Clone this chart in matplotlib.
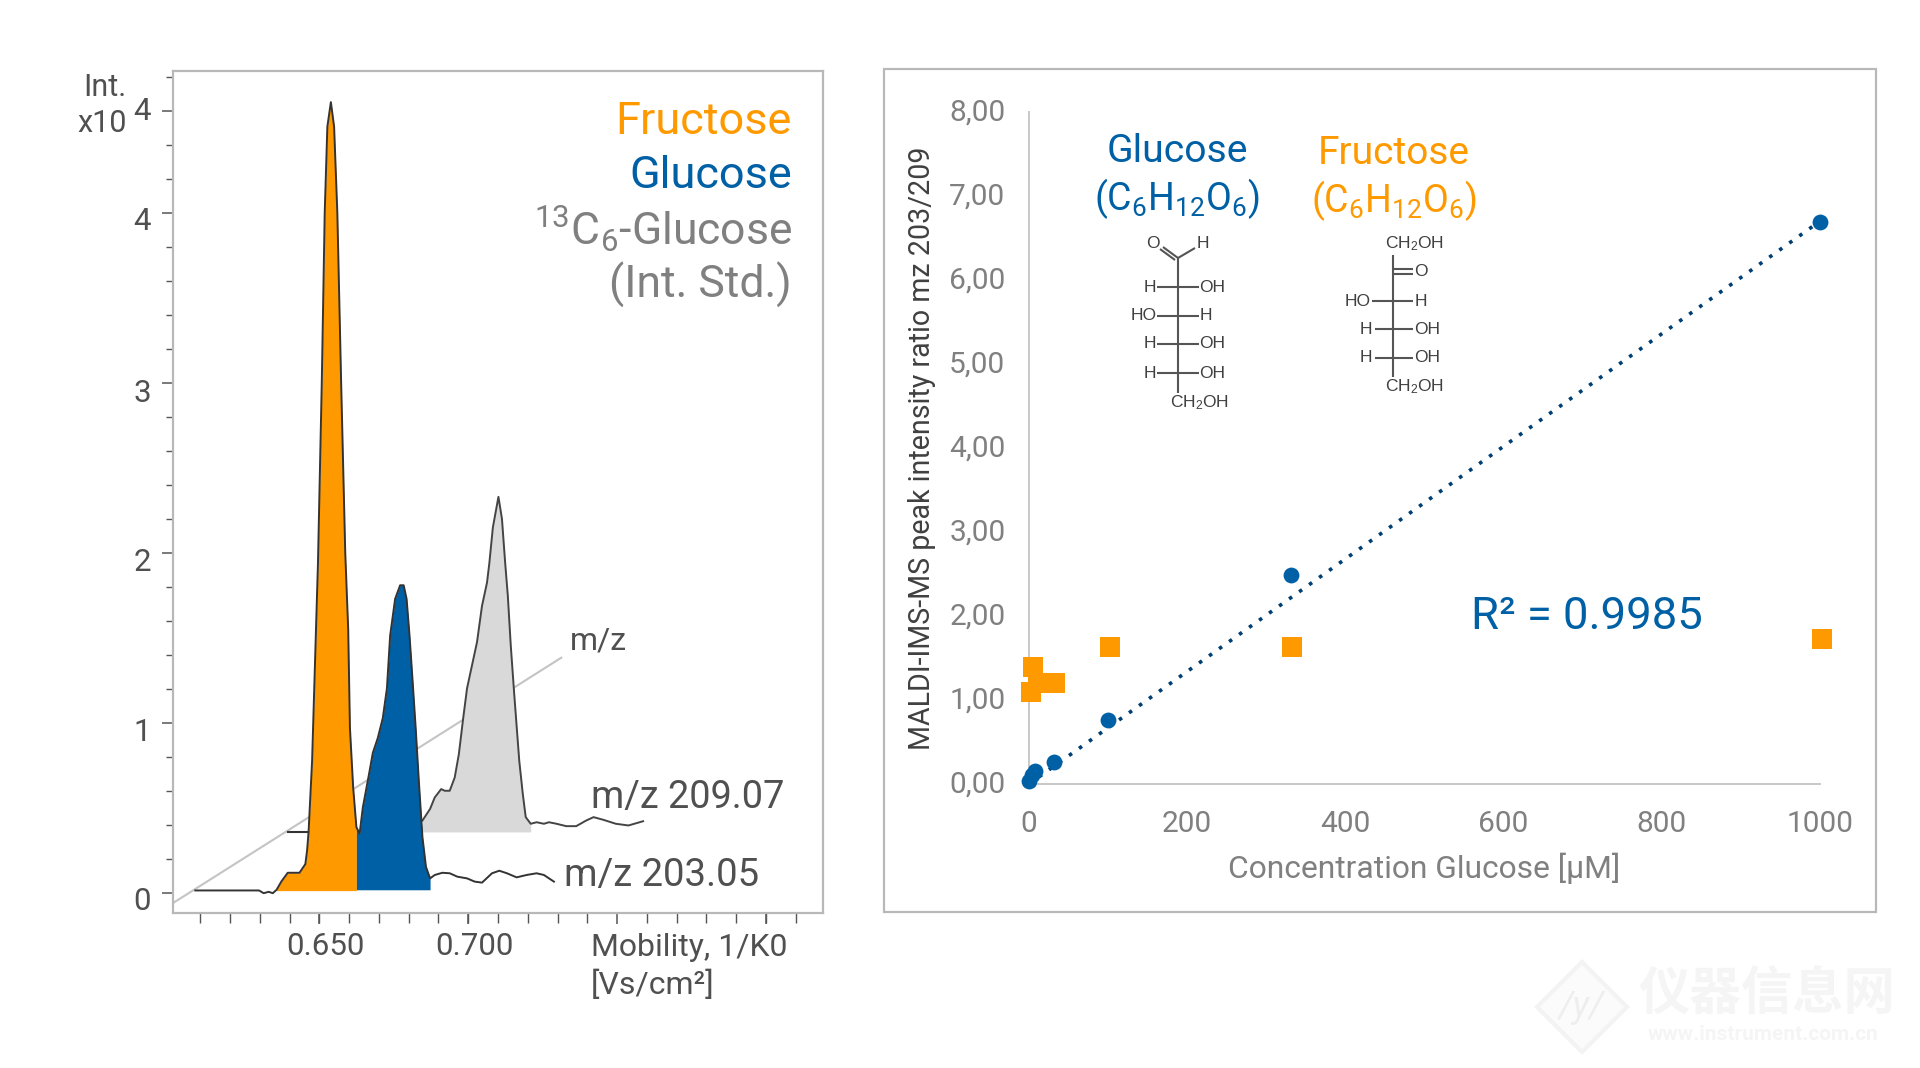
import numpy as np
import matplotlib
matplotlib.use("Agg")
import matplotlib.pyplot as plt
from matplotlib.patches import Rectangle, Polygon
from matplotlib.transforms import ScaledTranslation

plt.rcParams["font.family"] = ["Roboto", "Noto Sans CJK SC", "DejaVu Sans"]

# -----------------------------
# Data, left panel (mobilogram)
# -----------------------------
trace_203_x = [.6079, .6296, .6312, .6329, .6343, .6356, .6372, .6394, .6434, .6454, .6460, .6465, .6477,
               .6487, .6497, .6510, .6520, .6529, .6541, .6552, .6563, .6576, .6590, .6600, .6606,
               .6617, .6628, .6639, .6650, .6671, .6684, .6701, .6718, .6732, .6743, .6760, .6777,
               .6789, .6799, .6809, .6819, .6830, .6840, .6853, .6865, .6879, .6895, .6921, .6946,
               .6972, .7005, .7031, .7056, .7090, .7115, .7141, .7174, .7208, .7242, .7267, .7301]
trace_203_y = [.016, .016, .0, .008, .0, .02, .068, .120, .120, .171, .252, .36, .777,
               1.36, 1.94, 3.0, 4.0, 4.506, 4.65, 4.506, 4.0, 3.0, 2.0, 1.553, .97,
               .62, .388, .35, .505, .70, .825, .913, 1.03, 1.204, 1.515, 1.73, 1.81,
               1.81, 1.73, 1.515, 1.26, .97, .68, .33, .155, .087, .107, .12, .117,
               .097, .087, .068, .062, .117, .132, .117, .093, .107, .117, .107, .068]

trace_209_x = [.6853, .6879, .6895, .6917, .6929, .6946, .6963, .6977, .6992, .7005, .7022, .7039,
               .7056, .7073, .7081, .7093, .7112, .7124, .7135, .7144, .7154, .7166, .7183, .7195,
               .7205, .7222, .7242, .7267, .7284, .7310, .7343, .7377, .7411, .7436, .7470, .7512,
               .7555, .7605]
trace_209_y = [.427, .495, .563, .612, .602, .602, .68, .816, 1.03, 1.204, 1.34, 1.476,
               1.689, 1.825, 1.94, 2.15, 2.33, 2.2, 1.94, 1.748, 1.456, 1.165, .777, .583,
               .447, .408, .417, .408, .417, .408, .394, .394, .427, .447, .431, .408,
               .398, .423]
trace_209_start_x = [.6394, .6465]
trace_209_start_y = [.36, .36]

mz_axis_x = [.6003, .7326]
mz_axis_y = [-.058, 1.384]

left_yticks = [0, 1, 2, 3, 4, 4.6]
left_ylabels = ["0", "1", "2", "3", "4", "4"]
left_xticks = [.6502, .7009, .7516, .8023]
left_xlabels = ["0.650", "0.700", "", ""]

# -----------------------------
# Data, right panel (calibration)
# -----------------------------
glucose_conc = [0.4, 3.5, 7.5, 31, 100, 331, 1000]
glucose_ratio = [.04, .11, .16, .26, .76, 2.49, 6.69]
fructose_conc = [2.5, 5.5, 11, 33, 102, 333, 1003]
fructose_ratio = [1.10, 1.39, 1.20, 1.20, 1.63, 1.63, 1.73]
fit_x = [0, 1000]
fit_y = [0, 6.70]
right_yticks = [0, 1, 2, 3, 4, 5, 6, 7, 8]
right_ylabels = ["0,00", "1,00", "2,00", "3,00", "4,00", "5,00", "6,00", "7,00", "8,00"]
right_xticks = [0, 200, 400, 600, 800, 1000]

ORANGE = "#ff9900"
BLUE = "#0060a5"
GREY = "#808080"
DARK = "#505050"
W, H = 1920, 1068

fig = plt.figure(figsize=(19.2, 10.68), dpi=100, facecolor="white")


def px_axes(x0, y0, x1, y1):
    # axes from pixel corners, y counted from the top
    return fig.add_axes([x0 / W, 1 - y1 / H, (x1 - x0) / W, (y1 - y0) / H])


# overlay in pixel coordinates, for frame, formulas, watermark
bg = fig.add_axes([0, 0, 1, 1], zorder=0)
bg.set_xlim(0, W)
bg.set_ylim(H, 0)
bg.axis("off")

# -----------------------------
# Watermark
# -----------------------------
bg.add_patch(Polygon([(1582, 962), (1627, 1007), (1582, 1052), (1537, 1007)], closed=True,
                     facecolor="#fbfbfb", edgecolor="#f3f3f3", linewidth=3))
bg.text(1582, 1007, "/y/", fontsize=26, color="#eeeeee", ha="center", va="center", style="italic")
bg.text(1767, 995, "仪器信息网", fontsize=37, color="#f5f5f5", ha="center", va="center", weight="bold")
bg.text(1763, 1035, "www.instrument.com.cn", fontsize=15, color="#f5f5f5", ha="center", va="center",
        weight="bold")

# -----------------------------
# Left panel
# -----------------------------
ax = px_axes(173, 71, 823, 913)
ax.set_zorder(1)
ax.set_xlim(.6003, .8218)
ax.set_ylim(-.1165, 4.833)
for s in ax.spines.values():
    s.set_color("#b8b8b8")
    s.set_linewidth(1.6)

ax.plot(mz_axis_x, mz_axis_y, color="#c4c4c4", lw=1.5, zorder=1)

x203 = np.array(trace_203_x)
y203 = np.array(trace_203_y)
x209 = np.array(trace_209_x)
y209 = np.array(trace_209_y)

m_grey = x209 <= .7222
ax.fill_between(x209[m_grey], .36, y209[m_grey], color="#d9d9d9", lw=0, zorder=2)
ax.plot(trace_209_start_x, trace_209_start_y, color="#333333", lw=1.5, zorder=2)
ax.plot(x209, y209, color="#444444", lw=1.4, zorder=3)

m_or = (x203 >= .6356) & (x203 <= .6628)
m_bl = (x203 >= .6628) & (x203 <= .6879)
ax.fill_between(x203[m_or], .015, y203[m_or], color=ORANGE, lw=0, zorder=4)
ax.fill_between(x203[m_bl], .02, y203[m_bl], color=BLUE, lw=0, zorder=4)
ax.plot(x203, y203, color="#333333", lw=1.4, zorder=5)

ax.set_yticks(left_yticks)
ax.set_yticklabels(left_ylabels)
ax.set_yticks(np.arange(0, 4.9, .2), minor=True)
ax.set_xticks(left_xticks)
ax.set_xticklabels(left_xlabels)
ax.set_xticks(.60967 + .010138 * np.arange(21), minor=True)
ax.tick_params(axis="both", which="major", length=8, width=1.1, color="#555555",
               labelsize=22.5, labelcolor=DARK)
ax.tick_params(axis="both", which="minor", length=7, width=1.0, color="#555555")
ax.tick_params(axis="y", which="major", pad=8)
ax.tick_params(axis="x", which="major", pad=6)
ax.tick_params(axis="y", which="minor", length=5)

# tick labels sit a little off their ticks
for lab, dy in zip(ax.get_yticklabels(), [-5, -6, -7, -8, -6, 2]):
    lab.set_transform(lab.get_transform() + ScaledTranslation(0, dy / 100, fig.dpi_scale_trans))
for lab in ax.get_xticklabels():
    lab.set_transform(lab.get_transform() + ScaledTranslation(6 / 100, 0, fig.dpi_scale_trans))

# -----------------------------
# Right panel
# -----------------------------
bg.add_patch(Rectangle((884, 69), 992, 843, fill=False, edgecolor="#b8b8b8", linewidth=1.6))

ax2 = px_axes(1029, 112, 1820, 784)
ax2.set_zorder(1)
ax2.patch.set_alpha(0)
ax2.set_xlim(0, 1000)
ax2.set_ylim(0, 8)
ax2.spines["top"].set_visible(False)
ax2.spines["right"].set_visible(False)
ax2.spines["left"].set_color("#c8c8c8")
ax2.spines["bottom"].set_color("#c8c8c8")
ax2.spines["left"].set_linewidth(1.4)
ax2.spines["bottom"].set_linewidth(1.4)

ax2.plot(fit_x, fit_y, color="#003f73", lw=2.6, linestyle=(0, (1, 2.4)), zorder=2, clip_on=False)
ax2.scatter(glucose_conc, glucose_ratio, s=130, color=BLUE, marker="o", linewidths=0, zorder=3, clip_on=False)
ax2.scatter(fructose_conc, fructose_ratio, s=207, color=ORANGE, marker="s", linewidths=0, zorder=3, clip_on=False)

ax2.set_xticks(right_xticks)
ax2.set_yticks(right_yticks)
ax2.set_yticklabels(right_ylabels)
ax2.tick_params(axis="both", length=0, labelsize=21.5, labelcolor=GREY)
ax2.tick_params(axis="x", pad=19)
ax2.tick_params(axis="y", pad=17)
for lab in ax2.get_yticklabels():
    lab.set_transform(lab.get_transform() + ScaledTranslation(0, 2.5 / 100, fig.dpi_scale_trans))

# -----------------------------
# Text on top, pixel coordinates
# -----------------------------
top = fig.add_axes([0, 0, 1, 1], zorder=5)
top.set_xlim(0, W)
top.set_ylim(H, 0)
top.axis("off")


def txt(x, y, s, size, color=DARK, ha="center", **kw):
    top.text(x, y, s, fontsize=size, color=color, ha=ha, va="center", **kw)


txt(127, 88, "Int.", 22, ha="right")
txt(127, 123, "x10", 22, ha="right")
txt(792, 122, "Fructose", 32.5, ORANGE, ha="right")
txt(792, 176, "Glucose", 32.5, BLUE, ha="right")
txt(792, 229, r"$\mathregular{^{13}C_6}$-Glucose", 32, GREY, ha="right")
txt(792, 285, "(Int. Std.)", 32, GREY, ha="right")
txt(570, 641, "m/z", 23, ha="left")
txt(591, 797, "m/z 209.07", 27.3, ha="left")
txt(564, 876, "m/z 203.05", 27.5, ha="left")
txt(591, 948, "Mobility, 1/K0", 23, ha="left")
txt(591, 985, "[Vs/cm²]", 23, ha="left")

txt(922, 448, "MALDI-IMS-MS peak intensity ratio mz 203/209", 20.6, "#404040", rotation=90)
txt(1424, 868, "Concentration Glucose [µM]", 22.9, GREY)
txt(1587, 617, "R² = 0.9985", 32.7, BLUE)

txt(1177, 151, "Glucose", 28.2, BLUE)
txt(1177, 199, r"$\mathregular{(C_6H_{12}O_6)}$", 27, BLUE)
txt(1394, 153, "Fructose", 28, ORANGE)
txt(1394, 201, r"$\mathregular{(C_6H_{12}O_6)}$", 27, ORANGE)

# -----------------------------
# Structural formulas
# -----------------------------
BOND = "#555555"
ATOM = "#404040"
LIB = "Liberation Sans"


def bond(xs, ys, lw=1.5):
    top.plot(xs, ys, color=BOND, lw=lw, solid_capstyle="butt")


def atom(x, y, s):
    top.text(x, y, s, fontsize=12.5, color=ATOM, ha="center", va="center", family=LIB)


# glucose
bond([1178, 1178], [258, 393])
bond([1178, 1163], [258, 247])
bond([1175, 1160], [260, 249])
bond([1178, 1195], [258, 248])
atom(1153, 244, "O")
atom(1203, 244, "H")
for y, left, right in [(287, "H", "OH"), (316, "HO", "H"), (344, "H", "OH"), (373, "H", "OH")]:
    bond([1157, 1199], [y, y])
    atom(1150 if left == "H" else 1144, y, left)
    atom(1212 if right == "OH" else 1206, y, right)
atom(1200, 403, r"CH$\mathregular{_2}$OH")

# fructose
bond([1393, 1393], [255, 377])
bond([1393, 1413], [269, 269])
bond([1393, 1413], [274, 274])
atom(1421, 272, "O")
atom(1415, 244, r"CH$\mathregular{_2}$OH")
for y, left, right in [(301, "HO", "H"), (329, "H", "OH"), (358, "H", "OH")]:
    bond([1372 if left == "HO" else 1375, 1413], [y, y])
    atom(1358 if left == "HO" else 1366, y, left)
    atom(1421 if right == "H" else 1427, y, right)
atom(1415, 387, r"CH$\mathregular{_2}$OH")

fig.savefig("out.png", dpi=100)
